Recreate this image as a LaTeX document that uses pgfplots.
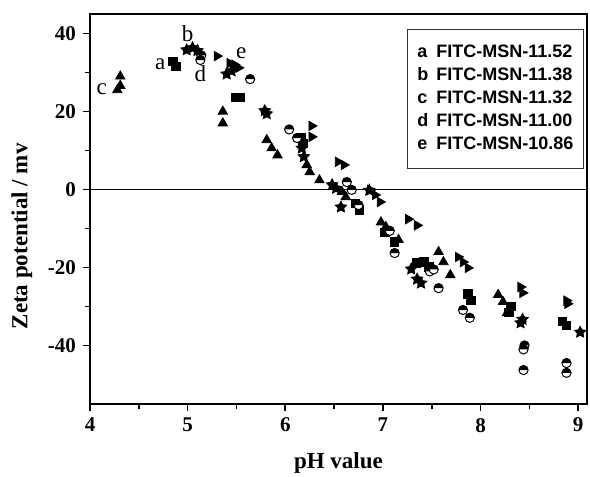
\documentclass[border=0pt]{standalone}
\usepackage{pgfplots}
\pgfplotsset{compat=1.18}
\usetikzlibrary{plotmarks}
\usepackage{fontspec}
\setmainfont{Liberation Serif}
\newfontfamily\legfont{Liberation Sans}
\pgfdeclareplotmark{fstar}{%
  \pgfpathmoveto{\pgfpointpolar{90}{\pgfplotmarksize}}%
  \pgfpathlineto{\pgfpointpolar{126}{0.5\pgfplotmarksize}}%
  \pgfpathlineto{\pgfpointpolar{162}{\pgfplotmarksize}}%
  \pgfpathlineto{\pgfpointpolar{198}{0.5\pgfplotmarksize}}%
  \pgfpathlineto{\pgfpointpolar{234}{\pgfplotmarksize}}%
  \pgfpathlineto{\pgfpointpolar{270}{0.5\pgfplotmarksize}}%
  \pgfpathlineto{\pgfpointpolar{306}{\pgfplotmarksize}}%
  \pgfpathlineto{\pgfpointpolar{342}{0.5\pgfplotmarksize}}%
  \pgfpathlineto{\pgfpointpolar{18}{\pgfplotmarksize}}%
  \pgfpathlineto{\pgfpointpolar{54}{0.5\pgfplotmarksize}}%
  \pgfpathclose\pgfusepathqfillstroke}
\pgfdeclareplotmark{hcirc}{%
  \pgfsetfillcolor{white}%
  \pgfpathcircle{\pgfpointorigin}{\pgfplotmarksize}%
  \pgfusepathqfill
  \pgfsetfillcolor{black}%
  \pgfpathmoveto{\pgfqpoint{\pgfplotmarksize}{0pt}}%
  \pgfpatharc{0}{180}{\pgfplotmarksize}%
  \pgfpathclose
  \pgfusepathqfill
  \pgfpathcircle{\pgfpointorigin}{\pgfplotmarksize}%
  \pgfusepathqstroke}
\begin{document}
\begin{tikzpicture}
\begin{axis}[
  name=ax,
  scale only axis,
  width=248.5pt, height=195pt,
  xmin=4, xmax=9.09, ymin=-55, ymax=45,
  xtick={4,5,6,7,8,9}, ytick={-40,-20,0,20,40},
  minor x tick num=1, minor y tick num=1,
  tick pos=left, tick align=outside,
  major tick length=3.5pt, minor tick length=2.5pt,
  axis line style={line width=1pt},
  every tick/.style={line width=0.8pt, black},
  /pgf/number format/assume math mode=true,
  ticklabel style={font=\bfseries\fontsize{10.5}{12}\selectfont},
  xlabel={\bfseries pH value},
  ylabel={\bfseries Zeta potential / mv},
  label style={font=\bfseries\fontsize{11.5}{13}\selectfont},
  x label style={at={(axis description cs:0.5,-0.15)}, anchor=center},
  y label style={at={(axis description cs:-0.137,0.43)}, anchor=center},
  clip=false,
]
\addplot[black, line width=0.7pt, forget plot] coordinates {(4,0) (9.09,0)};
% a: squares
\addplot[only marks, mark=square*, mark size=2.1pt, black] coordinates {
(4.85,32.8)(4.88,31.6)(5.49,23.6)(5.54,23.6)(6.16,13.2)(6.18,11.8)
(6.72,-3.6)(6.76,-5.2)(7.02,-11.0)(7.12,-13.4)(7.34,-18.8)(7.42,-18.6)
(7.47,-19.8)(7.87,-26.8)(7.90,-28.5)(8.29,-31.5)(8.31,-30.0)(8.84,-33.8)(8.88,-34.8)};
% b: stars
\addplot[only marks, mark=fstar, mark size=3pt, black] coordinates {
(4.99,35.8)(5.05,36.3)(5.10,35.6)(5.40,29.6)(5.45,30.4)(5.79,20.2)(5.81,19.4)
(6.17,10.6)(6.19,8.4)(6.48,1.2)(6.52,0.3)(6.57,-4.5)(6.86,-0.2)(7.29,-20.4)
(7.35,-23.0)(7.39,-24.0)(8.41,-34.2)(8.43,-33.3)(9.02,-36.6)};
% c: triangles up
\addplot[only marks, mark=triangle*, mark size=2.7pt, black] coordinates {
(4.28,25.5)(4.31,26.6)(4.31,29.0)(5.36,20.0)(5.36,17.0)(5.81,12.7)(5.86,10.6)
(5.92,8.8)(6.22,6.3)(6.25,4.5)(6.35,2.4)(6.58,-0.6)(6.62,-1.9)(6.98,-8.4)
(7.03,-9.6)(7.16,-12.9)(7.57,-16.0)(7.62,-18.6)(7.69,-21.9)(8.18,-27.0)
(8.23,-28.8)(8.27,-31.7)};
% d: half-filled circles
\addplot[only marks, mark=hcirc, mark size=2.3pt, black, mark options={line width=0.5pt}] coordinates {
(5.14,34.4)(5.13,33.2)(5.64,28.3)(6.04,15.4)(6.12,13.2)(6.63,1.9)(6.68,-0.1)
(6.75,-4.0)(7.07,-10.6)(7.12,-16.3)(7.48,-21.0)(7.52,-20.5)(7.57,-25.3)
(7.82,-30.9)(7.89,-32.9)(8.45,-40.0)(8.44,-41.0)(8.44,-46.3)(8.88,-44.5)(8.88,-47.0)};
% e: triangles right
\addplot[only marks, mark=triangle*, mark size=2.7pt, black, mark options={rotate=-90}] coordinates {
(5.30,34.2)(5.43,32.4)(5.48,32.0)(5.52,31.2)(6.27,16.3)(6.27,13.5)(6.54,7.1)
(6.60,6.3)(6.87,-0.1)(6.92,-1.4)(6.97,-3.2)(7.26,-7.6)(7.35,-9.2)(7.77,-17.3)
(7.82,-18.6)(7.87,-20.1)(8.41,-25.0)(8.43,-26.5)(8.88,-28.5)(8.89,-29.3)};
\node[font=\fontsize{11.5}{13}\selectfont] at (axis cs:4.72,32.2) {a};
\node[font=\fontsize{11.5}{13}\selectfont] at (axis cs:5.0,40.0) {b};
\node[font=\fontsize{11.5}{13}\selectfont] at (axis cs:4.12,25.8) {c};
\node[font=\fontsize{11.5}{13}\selectfont] at (axis cs:5.13,29.8) {d};
\node[font=\fontsize{11.5}{13}\selectfont] at (axis cs:5.55,35.0) {e};
\node[draw=black!80, line width=0.6pt, anchor=north east, inner xsep=5pt, inner ysep=6pt,
      font=\legfont\bfseries\fontsize{9}{11.5}\selectfont]
  at ([xshift=-1.5pt,yshift=-7.5pt]rel axis cs:1,1) {%
  \begin{tabular}{@{}l@{\hspace{4pt}}l@{}}
  a & FITC-MSN-11.52\\
  b & FITC-MSN-11.38\\
  c & FITC-MSN-11.32\\
  d & FITC-MSN-11.00\\
  e & FITC-MSN-10.86
  \end{tabular}};
\end{axis}
\pgfresetboundingbox
\path (ax.south west) ++(-45pt,-36.5pt) rectangle ++(295pt,238.5pt);
\end{tikzpicture}
\end{document}
